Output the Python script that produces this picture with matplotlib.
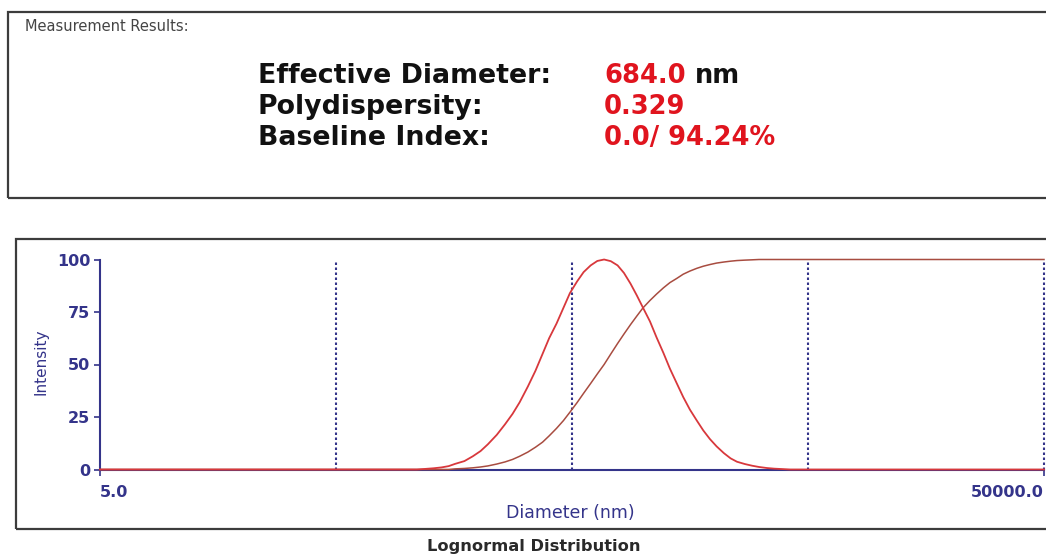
import matplotlib
matplotlib.use("Agg")
import matplotlib.pyplot as plt
from matplotlib.patches import Rectangle

# ── values ───────────────────────────────────────────────
# intensity distribution (red bell) and cumulative curve, diameter in nm
dist_diam = [5, 110, 120, 130, 140, 150, 160, 175, 190, 205, 220, 240, 260, 280,
             300, 325, 350, 375, 400, 430, 460, 490, 525, 560, 600, 640, 684,
             730, 780, 830, 885, 940, 1000, 1070, 1140, 1220, 1300, 1390, 1480,
             1580, 1690, 1800, 1920, 2050, 2200, 2350, 2500, 2700, 2900, 3100,
             3350, 3600, 3900, 4200, 50000]
dist_int = [0, 0, 0.3, 0.6, 1.0, 1.6, 2.7, 4.0, 6.3, 8.8, 12, 16.5, 21.5, 26.5,
            32, 39.5, 47, 55, 62.5, 69.5, 77, 84, 89.5, 94, 97.2, 99.3, 100,
            99.2, 97.2, 93.6, 88.5, 83, 77, 70.5, 63, 55.5, 48, 41, 34.5,
            28.5, 23.3, 18.6, 14.5, 11, 7.8, 5.3, 3.7, 2.6, 1.8, 1.2,
            0.7, 0.4, 0.2, 0, 0]

cum_diam = [5, 150, 160, 175, 190, 205, 220, 240, 260, 280, 300, 325, 350, 375,
            400, 430, 460, 490, 525, 560, 600, 640, 684, 730, 780, 830, 885,
            940, 1000, 1070, 1140, 1220, 1300, 1390, 1480, 1580, 1690, 1800,
            1920, 2050, 2200, 2350, 2500, 2700, 2900, 3100, 50000]
cum_int = [0, 0, 0.3, 0.5, 0.8, 1.2, 1.7, 2.6, 3.6, 4.8, 6.3, 8.3, 10.6, 13,
           16, 19.6, 23.3, 27.3, 31.8, 36.3, 41, 45.5, 50, 55, 60, 64.5, 69,
           73, 77, 80.5, 83.5, 86.5, 89, 91, 93, 94.5, 95.8, 96.8,
           97.6, 98.3, 98.8, 99.2, 99.5, 99.7, 99.85, 100, 100]

decades = [50, 500, 5000, 50000]
y_ticks = [0, 25, 50, 75, 100]
x_ticks = [5, 50000]
x_tick_labels = ["5.0", "50000.0"]

result_labels = ["Effective Diameter:", "Polydispersity:", "Baseline Index:"]
result_values = ["684.0", "0.329", "0.0/ 94.24%"]

navy = "#34348a"
red = "#d8383c"
cum_red = "#a84c40"
W, H = 1046, 555

fig = plt.figure(figsize=(W / 100, H / 100), dpi=100)

# ── measurement results box ──────────────────────────────
fig.patches.append(Rectangle((8 / W, 1 - 198 / H), 1.1, 186 / H, fill=False,
                             edgecolor="#3c3c3c", linewidth=1.6,
                             transform=fig.transFigure))
fig.text(25 / W, 1 - 31 / H, "Measurement Results:", fontsize=10.5,
         color="#444444", va="baseline")

for i, (lab, val) in enumerate(zip(result_labels, result_values)):
    yb = 1 - (83 + 31 * i) / H
    fig.text(258 / W, yb, lab, fontsize=19.3, fontweight="bold",
             color="#111111", va="baseline")
    fig.text(604 / W, yb, val, fontsize=18.5, fontweight="bold",
             color="#e0141e", va="baseline")
fig.text(695 / W, 1 - 83 / H, "nm", fontsize=18.5, fontweight="bold",
         color="#111111", va="baseline")

# ── plot box ─────────────────────────────────────────────
fig.patches.append(Rectangle((16 / W, 1 - 529 / H), 1.1, 290 / H, fill=False,
                             edgecolor="#3c3c3c", linewidth=1.6,
                             transform=fig.transFigure))

ax = fig.add_axes([100 / W, 1 - 469.5 / H, 944 / W, 210 / H])
ax.set_xscale("log")
ax.set_xlim(5, 50000)
ax.set_ylim(0, 100)

for d in decades:
    ax.plot([d, d], [0, 100], color=navy, linewidth=1.5,
            linestyle=(0, (1.2, 1.2)), clip_on=False, zorder=1)

ax.plot(cum_diam, cum_int, color=cum_red, linewidth=1.1, clip_on=False, zorder=3)
ax.plot(dist_diam, dist_int, color=red, linewidth=1.3, clip_on=False, zorder=4)

for s in ["top", "right"]:
    ax.spines[s].set_visible(False)
for s in ["left", "bottom"]:
    ax.spines[s].set_color(navy)
    ax.spines[s].set_linewidth(1.5)

ax.set_yticks(y_ticks)
ax.set_yticklabels([str(v) for v in y_ticks])
ax.set_xticks(x_ticks)
ax.set_xticklabels(x_tick_labels)
ax.minorticks_off()
ax.tick_params(axis="both", colors=navy, length=4, width=1.2,
               labelsize=11.5, labelcolor=navy)
ax.tick_params(axis="x", pad=7)
ax.tick_params(axis="y", pad=3)
for lab in ax.get_xticklabels() + ax.get_yticklabels():
    lab.set_fontweight("bold")
xl = ax.get_xticklabels()
xl[0].set_horizontalalignment("left")
xl[-1].set_horizontalalignment("right")

fig.text(41 / W, 1 - 362 / H, "Intensity", rotation=90, fontsize=11,
         color=navy, ha="center", va="center")
fig.text(570 / W, 1 - 513 / H, "Diameter (nm)", fontsize=12.5,
         color=navy, ha="center", va="center")
fig.text(534 / W, 1 - 547 / H, "Lognormal Distribution", fontsize=11.7,
         fontweight="bold", color="#2a2a2a", ha="center", va="center")

fig.savefig("out.png", dpi=100)
